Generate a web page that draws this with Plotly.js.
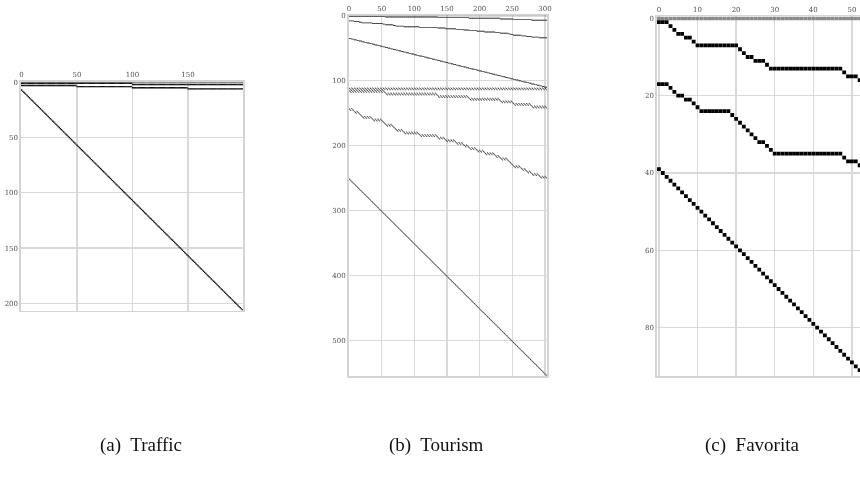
<!DOCTYPE html>
<html>
<head>
<meta charset="utf-8">
<script src="https://cdn.plot.ly/plotly-3.0.1.min.js"></script>
<style>
  html, body { margin: 0; padding: 0; background: #ffffff; }
  /* everything is drawn in greys; keep text antialiasing neutral too */
  #chart { width: 860px; height: 480px; filter: grayscale(1); }
</style>
</head>
<body>
<div id="chart"></div>
<script>
// ---- Traffic: 200 sensors, grouped into halves and quarters ----
const trafficHalves = [100, 100];
const trafficQuarters = [50, 50, 50, 50];
const trafficSensors = 200;

// ---- Tourism: 7 states -> 27 zones -> 76 regions, crossed with 4 purposes ----
const tourismStates = ['NSW', 'VIC', 'QLD', 'SA', 'WA', 'TAS', 'NT'];
const tourismZonesPerState = [6, 5, 4, 4, 3, 3, 2];
const tourismRegionsPerZone = [2, 2, 1, 4, 4, 1, 3, 1, 3, 6, 7, 3, 4, 3, 2, 3, 3, 4, 2, 3, 1, 1, 3, 2, 2, 3, 3];
const tourismPurposes = ['Holiday', 'Visiting', 'Business', 'Other'];

// ---- Favorita: 16 states -> 22 cities -> 54 stores ----
const favoritaStoresPerState = [3, 1, 1, 2, 2, 1, 11, 1, 1, 2, 3, 1, 19, 1, 3, 2];
const favoritaStoresPerCity = [3, 1, 1, 2, 2, 1, 1, 8, 1, 1, 1, 1, 1, 1, 1, 2, 1, 1, 18, 1, 3, 2];

const captions = ['(a)  Traffic', '(b)  Tourism', '(c)  Favorita'];

// Summing-matrix helpers: every row lists the bottom-level columns it adds up.
function sum(a) { return a.reduce((s, v) => s + v, 0); }
function rangesFromSizes(sizes) {
  const out = []; let start = 0;
  for (const n of sizes) { const cols = []; for (let c = start; c < start + n; c++) cols.push(c); out.push(cols); start += n; }
  return out;
}
function allCols(n) { const cols = []; for (let c = 0; c < n; c++) cols.push(c); return cols; }
function identityRows(n) { return allCols(n).map(c => [c]); }

function trafficRows() {
  const rows = [allCols(trafficSensors)];
  rows.push(...rangesFromSizes(trafficHalves));
  rows.push(...rangesFromSizes(trafficQuarters));
  rows.push(...identityRows(trafficSensors));
  return rows;
}

function tourismRows() {
  const nP = tourismPurposes.length;
  const nBottom = sum(tourismRegionsPerZone) * nP;
  // columns per zone / state (regions x purposes)
  const zoneCols = tourismRegionsPerZone.map(r => r * nP);
  const stateCols = []; let z = 0;
  for (const nz of tourismZonesPerState) { stateCols.push(sum(zoneCols.slice(z, z + nz))); z += nz; }
  const regionCols = [];
  for (let i = 0; i < sum(tourismRegionsPerZone); i++) regionCols.push(nP);

  const geoLevels = [stateCols, zoneCols, regionCols];
  const rows = [allCols(nBottom)];
  for (const lvl of geoLevels) rows.push(...rangesFromSizes(lvl));
  // purpose-only rows
  for (let p = 0; p < nP; p++) rows.push(allCols(nBottom).filter(c => c % nP === p));
  // state x purpose, zone x purpose
  for (const lvl of [stateCols, zoneCols]) {
    for (const grp of rangesFromSizes(lvl)) {
      for (let p = 0; p < nP; p++) rows.push(grp.filter(c => c % nP === p));
    }
  }
  rows.push(...identityRows(nBottom));
  return rows;
}

function favoritaRows() {
  const n = sum(favoritaStoresPerState);
  const rows = [allCols(n)];
  rows.push(...rangesFromSizes(favoritaStoresPerState));
  rows.push(...rangesFromSizes(favoritaStoresPerCity));
  rows.push(...identityRows(n));
  return rows;
}

// Split nonzeros into the total row (drawn under the frame, greyed) and the rest
function spyTraces(rows, xa, ya, size, color) {
  const top = { x: [], y: [] }, rest = { x: [], y: [] };
  rows.forEach((cols, r) => {
    const t = r === 0 ? top : rest;
    cols.forEach(c => { t.x.push(c); t.y.push(r); });
  });
  const base = { type: 'scatter', mode: 'markers', xaxis: xa, yaxis: ya, hoverinfo: 'skip', showlegend: false };
  return [
    Object.assign({}, base, top, { marker: { symbol: 'square', size: size, color: '#8a8a8a' } }),
    Object.assign({}, base, rest, { marker: { symbol: 'square', size: size, color: color } })
  ];
}

const W = 860, H = 480;
const px = (a, b) => [a / W, b / W];
const py = (top, bottom) => [1 - bottom / H, 1 - top / H];

const tickFont = { family: 'DejaVu Serif', size: 7, color: '#505050' };
function axisStyle(extra) {
  return Object.assign({
    showgrid: true, gridcolor: '#d9d9d9', gridwidth: 1.3,
    zeroline: false, showline: true, linecolor: '#d4d4d4', linewidth: 1.6, mirror: true,
    ticks: '', tickfont: tickFont, fixedrange: true, tick0: 0
  }, extra);
}

const trows = trafficRows(), urows = tourismRows(), frows = favoritaRows();

const data = [
  ...spyTraces(trows, 'x', 'y', 1.4, '#111111'),
  ...spyTraces(urows, 'x2', 'y2', 0.9, '#3a3a3a'),
  ...spyTraces(frows, 'x3', 'y3', 3.8, '#000000')
];

const layout = {
  width: W, height: H,
  margin: { l: 0, r: 0, t: 0, b: 0 },
  paper_bgcolor: '#ffffff', plot_bgcolor: '#ffffff',
  showlegend: false,
  xaxis: axisStyle({ domain: px(21, 243), range: [-0.5, trafficSensors - 0.5], side: 'top', anchor: 'y', dtick: 50 }),
  yaxis: axisStyle({ domain: py(81.7, 310.5), range: [trows.length - 0.5, -0.5], anchor: 'x', dtick: 50 }),
  xaxis2: axisStyle({ domain: px(348.7, 547.2), range: [-0.5, urows[0].length - 0.5], side: 'top', anchor: 'y2', dtick: 50 }),
  yaxis2: axisStyle({ domain: py(15.4, 376), range: [urows.length - 0.5, -0.5], anchor: 'x2', dtick: 100 }),
  xaxis3: axisStyle({ domain: px(657, 860), range: [-0.5, 52.1], side: 'top', anchor: 'y3', dtick: 10 }),
  yaxis3: axisStyle({ domain: py(16.4, 376), range: [frows.length - 0.5, -0.5], anchor: 'x3', dtick: 20, mirror: false }),
  annotations: [
    { text: captions[0], x: 141 / W, y: 1 - 445 / H },
    { text: captions[1], x: 437 / W, y: 1 - 445 / H },
    { text: captions[2], x: 752 / W, y: 1 - 445 / H }
  ].map(a => Object.assign(a, {
    xref: 'paper', yref: 'paper', xanchor: 'center', yanchor: 'middle', showarrow: false,
    font: { family: 'Liberation Serif', size: 19, color: '#111111' }
  }))
};

Plotly.newPlot('chart', data, layout, { staticPlot: true, displayModeBar: false });
</script>
</body>
</html>
